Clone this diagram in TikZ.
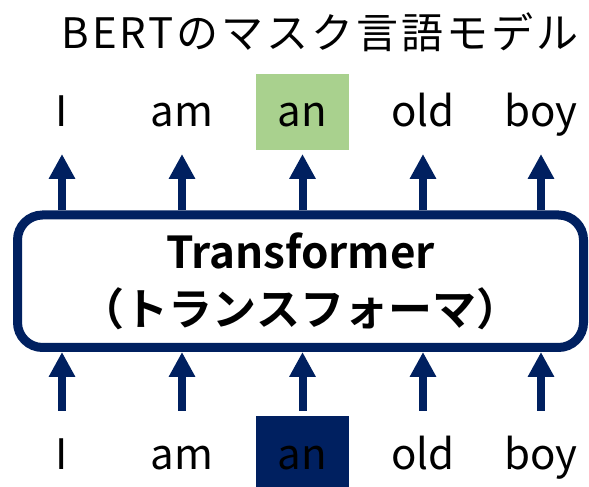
\documentclass[tikz,border=0pt]{standalone}
\usepackage{fontspec}
\setmainfont{Noto Sans CJK JP}[BoldFont={Noto Sans CJK JP Bold}]
\usepackage{xcolor}
\usetikzlibrary{positioning,arrows.meta}
\definecolor{navy}{HTML}{002060}
\definecolor{leaf}{HTML}{A9D18E}

\tikzset{
  word/.style={anchor=base,inner sep=0pt,font=\fontsize{42}{50}\selectfont},
  upar/.style={navy,line width=8pt,-{Triangle[width=25pt,length=25pt]}},
  tfbox/.style={draw=navy,line width=9pt,rounded corners=25pt,fill=white,
    minimum width=566pt,minimum height=132.5pt,align=center,
    font=\bfseries\fontsize{44}{57}\selectfont},
}

\begin{document}
\begin{tikzpicture}[x=1pt,y=1pt]
  \useasboundingbox (0,0) rectangle (589,487);
  % title
  \node[anchor=base,font=\fontsize{42}{50}\selectfont\addfontfeatures{LetterSpace=7}] (title) at (320,438) {BERTのマスク言語モデル};
  % encoder block
  \node[tfbox] (tf) at (300.5,205.75) {Transformer\\（トランスフォーマ）};
  % input / output tokens, the masked one is boxed
  \foreach \x/\w/\i in {62/I/1,182/am/2,423/old/4,541/boy/5}{
    \node[word] (out\i) at (\x,360) {\w};
    \node[word] (in\i) at (\x,17) {\w};
  }
  \node[word,fill=leaf,minimum width=93pt,text height=53pt,text depth=23pt] (out3) at (302.5,360) {an};
  \node[word,fill=navy,minimum width=93pt,text height=54pt,text depth=17pt] (in3) at (302.5,17) {an};
  % arrows in and out of the block
  \foreach \i in {1,...,5}{
    \draw[upar] ([yshift=59pt]in\i.base) -- (in\i.base |- tf.south);
    \draw[upar] (tf.north -| out\i.base) -- ([yshift=-27pt]out\i.base);
  }
\end{tikzpicture}
\end{document}
